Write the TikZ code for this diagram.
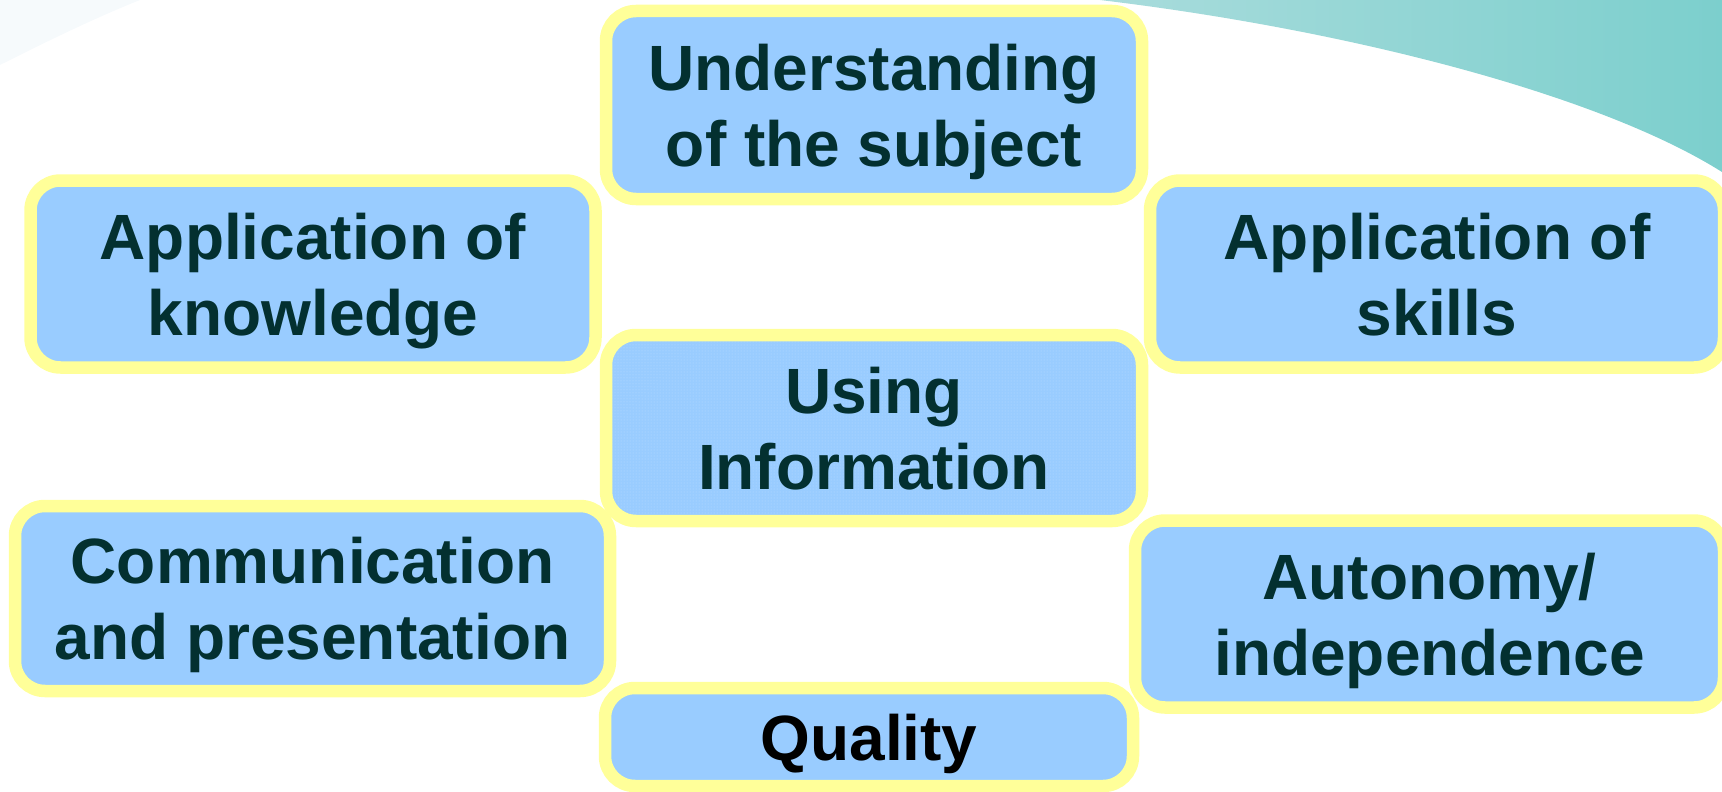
\documentclass[tikz,border=0pt]{standalone}
\usepackage{fontspec}
\setmainfont{Liberation Sans}
\usetikzlibrary{patterns}

\definecolor{boxblue}{HTML}{99CCFF}
\definecolor{rimyellow}{HTML}{FFFF99}
\definecolor{darkteal}{HTML}{033030}
\definecolor{seafoamL}{HTML}{A9DCDC}
\definecolor{seafoamR}{HTML}{7CCFCD}
\definecolor{dotblue}{HTML}{BBDDFF}
\definecolor{washblue}{HTML}{F6FAFC}

\begin{document}
\begin{tikzpicture}[x=1pt, y=-1pt,
	topic/.style={draw=rimyellow, line width=12.5pt, fill=boxblue, rounded corners=30pt,
		inner sep=0pt, align=center, text=darkteal, text depth=0pt,
		font=\fontsize{64}{76}\selectfont\bfseries},
	dotted topic/.style={topic, fill=none, preaction={fill=boxblue},
		preaction={pattern=dots, pattern color=dotblue}}]
	\useasboundingbox (0, 0) rectangle (1722, 792);
	\clip (0, 0) rectangle (1722, 792);
	% backdrop
	\fill[washblue] (0, 0) -- (140, 0) .. controls (90, 20) and (40, 45) .. (0, 65) -- cycle;
	\shade[left color=seafoamL, right color=seafoamR] (1100, 0) .. controls (1350, 30) and (1600, 95) .. (1722, 172) -- (1722, 0) -- cycle;
	% boxes
	\node (under) [topic, minimum width=536, minimum height=188] at (874, 105) {Understanding\\of the subject};
	\node (knowledge) [topic, minimum width=565, minimum height=187] at (313, 274) {Application of\\knowledge};
	\node (skills) [topic, minimum width=574, minimum height=187] at (1437, 274) {Application of\\skills};
	\node (info) [dotted topic, minimum width=536, minimum height=186] at (874, 428) {Using\\Information};
	\node (comm) [topic, minimum width=595, minimum height=185] at (312.5, 598.5) {Communication\\and presentation};
	\node (autonomy) [topic, minimum width=589, minimum height=187] at (1429.5, 614) {Autonomy/\\independence};
	\node (quality) [topic, text=black, minimum width=528, minimum height=98] at (869, 737) {Quality};
\end{tikzpicture}
\end{document}
